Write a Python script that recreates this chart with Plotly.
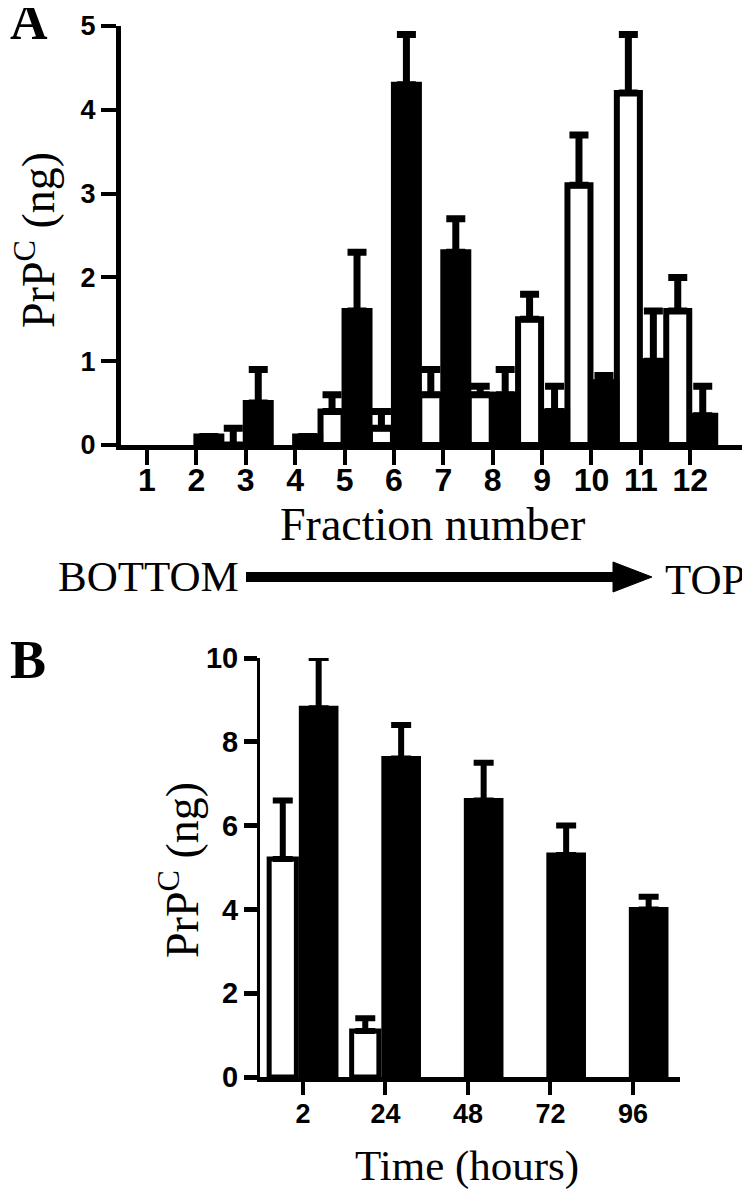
import plotly.graph_objects as go

# Panel A: sucrose gradient fractions
fractions = list(range(1, 13))
white_a = [0, 0, 0, 0, 0.4, 0.2, 0.6, 0.6, 1.5, 3.1, 4.2, 1.6]
white_a_err = [None, None, 0.2, None, 0.2, 0.2, 0.3, 0.1, 0.3, 0.6, 0.7, 0.4]
black_a = [0, 0.1, 0.5, 0.1, 1.6, 4.3, 2.3, 0.6, 0.4, 0.75, 1.0, 0.35]
black_a_err = [None, None, 0.4, None, 0.7, 0.6, 0.4, 0.3, 0.3, 0.08, 0.6, 0.35]

# Panel B: time course
times = ["2", "24", "48", "72", "96"]
white_b = [5.2, 1.1, 0, 0, 0]
white_b_err = [1.4, 0.3, None, None, None]
black_b = [8.8, 7.6, 6.6, 5.3, 4.0]
black_b_err = [1.2, 0.8, 0.9, 0.7, 0.3]

# the page body adds an 8px margin, so the figure is drawn 8px in from the corner
OFF = 8
W, H = 750 - OFF, 1190 - OFF


def px(x):
    return (x - OFF) / W


def py(y):
    return 1 - (y - OFF) / H


def shown(vals, errs):
    # empty bars with no error bar are left out so nothing is drawn on the axis
    return [None if (v == 0 and e is None) else v for v, e in zip(vals, errs)]


def err(arr, thick=7, w=9.5):
    return dict(type="data", symmetric=False, array=arr,
                arrayminus=[0] * len(arr),
                color="black", thickness=thick, width=w)


fig = go.Figure()

fig.add_trace(go.Bar(
    x=fractions, y=shown(white_a, white_a_err), width=0.466, offset=-0.486,
    marker=dict(color="white", line=dict(color="black", width=6)),
    error_y=err(white_a_err), xaxis="x", yaxis="y",
))
fig.add_trace(go.Bar(
    x=fractions, y=shown(black_a, black_a_err), width=0.506, offset=0.0,
    marker=dict(color="black", line=dict(color="black", width=6)),
    error_y=err(black_a_err), xaxis="x", yaxis="y",
))
fig.add_trace(go.Bar(
    x=times, y=shown(white_b, white_b_err), width=0.33, offset=-0.41,
    marker=dict(color="white", line=dict(color="black", width=5)),
    error_y=err(white_b_err, 6, 10), xaxis="x2", yaxis="y2",
))
fig.add_trace(go.Bar(
    x=times, y=shown(black_b, black_b_err), width=0.42, offset=-0.02,
    marker=dict(color="black", line=dict(color="black", width=5)),
    error_y=err(black_b_err, 6, 10), xaxis="x2", yaxis="y2",
))

tick_font = "Liberation Sans, Arial, sans-serif"
serif = "Liberation Serif, Times New Roman, serif"

axis_common = dict(showgrid=False, zeroline=False, showline=True, linecolor="black",
                   ticks="outside", tickcolor="black", fixedrange=True, automargin=False)

fig.update_layout(
    width=W, height=H,
    margin=dict(l=0, r=0, t=0, b=0, pad=0),
    paper_bgcolor="white", plot_bgcolor="white",
    barmode="overlay", showlegend=False,
    xaxis=dict(**axis_common, domain=[px(121), px(750)], range=[0.474, 13.21],
               tickvals=fractions, linewidth=5, tickwidth=4, ticklen=15,
               ticklabelstandoff=-12,
               tickfont=dict(family=tick_font, size=32, color="black", weight="bold"),
               anchor="y"),
    yaxis=dict(**axis_common, domain=[py(445), py(26)], range=[0, 5], dtick=1,
               linewidth=5, tickwidth=4, ticklen=15,
               tickfont=dict(family=tick_font, size=27, color="black", weight="bold"),
               anchor="x"),
    xaxis2=dict(**axis_common, domain=[px(260), px(680)], range=[-0.521, 4.57],
                type="category", linewidth=5, tickwidth=4, ticklen=13,
                ticklabelstandoff=-4,
                tickfont=dict(family=tick_font, size=27, color="black", weight="bold"),
                anchor="y2"),
    yaxis2=dict(**axis_common, domain=[py(1077), py(658)], range=[0, 10], dtick=2,
                linewidth=3, tickwidth=5, ticklen=13,
                tickfont=dict(family=tick_font, size=29, color="black", weight="bold"),
                anchor="x2"),
)

annos = [
    dict(text="<b>A</b>", x=px(8), y=py(-9), xanchor="left", yanchor="top", size=52),
    dict(text="<b>B</b>", x=px(8), y=py(628), xanchor="left", yanchor="top", size=54),
    dict(text="Fraction number", x=px(432), y=py(524), xanchor="center", yanchor="middle", size=46),
    dict(text="BOTTOM", x=px(56), y=py(576), xanchor="left", yanchor="middle", size=43),
    dict(text="TOP", x=px(663), y=py(579), xanchor="left", yanchor="middle", size=43),
    dict(text="Time (hours)", x=px(467), y=py(1166), xanchor="center", yanchor="middle", size=43),
    dict(text="PrP<sup>C</sup> (ng)", x=px(35), y=py(240), xanchor="center", yanchor="middle",
         size=46, textangle=-90),
    dict(text="PrP<sup>C</sup> (ng)", x=px(179), y=py(870), xanchor="center", yanchor="middle",
         size=46, textangle=-90),
]
for a in annos:
    size = a.pop("size")
    fig.add_annotation(**a, xref="paper", yref="paper", showarrow=False,
                       font=dict(family=serif, size=size, color="black"))

# BOTTOM -> TOP arrow
fig.add_shape(type="line", xref="paper", yref="paper",
              x0=px(246), y0=py(577), x1=px(616), y1=py(577),
              line=dict(color="black", width=10))
fig.add_shape(type="path", xref="paper", yref="paper",
              path=f"M {px(613)},{py(562)} L {px(652)},{py(577)} L {px(613)},{py(592)} Z",
              fillcolor="black", line=dict(color="black", width=1))

fig.write_html("out.html")
